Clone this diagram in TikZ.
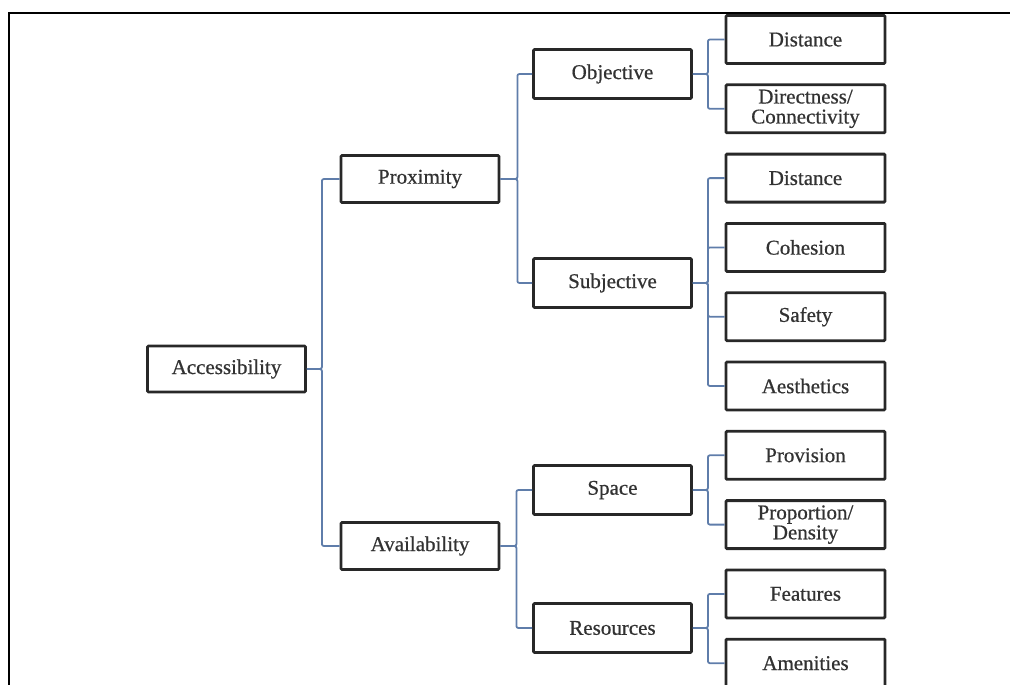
\documentclass[tikz,border=0pt]{standalone}
\usepackage{fontspec}
\setmainfont{Liberation Serif}
\newfontfamily\boxfont{Liberation Serif}[FakeBold=0.6]
\definecolor{conncol}{RGB}{95,125,170}
\definecolor{boxcol}{RGB}{40,40,40}
\definecolor{txtcol}{RGB}{50,50,50}
\begin{document}
\begin{tikzpicture}[x=1pt,y=-1pt,
  box/.style={draw=boxcol, line width=2.8pt, fill=white, rounded corners=1pt,
    minimum width=158pt, minimum height=47pt, inner sep=0pt, align=center,
    text=txtcol, font=\boxfont\fontsize{21}{20}\selectfont},
  leafbox/.style={box, minimum width=159pt, minimum height=48pt},
  conn/.style={draw=conncol, line width=1.8pt, rounded corners=2pt}]
\useasboundingbox (0,0) rectangle (1010,685);
\clip (0,0) rectangle (1010,685);

% level 0
\node[box, minimum height=46pt] (acc) at (226.5,369) {Accessibility};
% level 1
\node[box] (prox) at (420,179) {Proximity};
\node[box] (avail) at (420,546) {Availability};
% level 2
\node[box, minimum height=49pt] (obj) at (612.5,74) {Objective};
\node[box, minimum height=49pt] (subj) at (612.5,283) {Subjective};
\node[box, minimum height=49pt] (space) at (612.5,490) {Space};
\node[box, minimum height=49pt] (res) at (612.5,628) {Resources};
% level 3
\node[leafbox] (d1) at (805.5,39.5) {Distance};
\node[leafbox] (dir) at (805.5,108.8) {Directness/\\Connectivity};
\node[leafbox] (d2) at (805.5,178.1) {Distance};
\node[leafbox] (coh) at (805.5,247.4) {Cohesion};
\node[leafbox] (saf) at (805.5,316.7) {Safety};
\node[leafbox] (aes) at (805.5,386) {Aesthetics};
\node[leafbox] (prov) at (805.5,455.3) {Provision};
\node[leafbox] (prop) at (805.5,524.6) {Proportion/\\Density};
\node[leafbox] (feat) at (805.5,593.9) {Features};
\node[leafbox] (amen) at (805.5,663.2) {Amenities};

% connectors
\draw[conn] (acc.east) -- ++(15,0) |- (prox.west);
\draw[conn] (acc.east) -- ++(15,0) |- (avail.west);
\draw[conn] (prox.east) -- ++(17,0) |- (obj.west);
\draw[conn] (prox.east) -- ++(17,0) |- (subj.west);
\draw[conn] (avail.east) -- ++(16,0) |- (space.west);
\draw[conn] (avail.east) -- ++(16,0) |- (res.west);
\draw[conn] (obj.east) -- ++(15,0) |- (d1.west);
\draw[conn] (obj.east) -- ++(15,0) |- (dir.west);
\draw[conn] (subj.east) -- ++(15,0) |- (d2.west);
\draw[conn] (subj.east) -- ++(15,0) |- (coh.west);
\draw[conn] (subj.east) -- ++(15,0) |- (saf.west);
\draw[conn] (subj.east) -- ++(15,0) |- (aes.west);
\draw[conn] (space.east) -- ++(15,0) |- (prov.west);
\draw[conn] (space.east) -- ++(15,0) |- (prop.west);
\draw[conn] (res.east) -- ++(15,0) |- (feat.west);
\draw[conn] (res.east) -- ++(15,0) |- (amen.west);

% frame
\coordinate (ftr) at (1010,13);
\coordinate (ftl) at (9,13);
\coordinate (fbl) at (9,685);
\draw[black, line width=2.5pt] (ftr) -- (ftl) -- (fbl);
\end{tikzpicture}
\end{document}
